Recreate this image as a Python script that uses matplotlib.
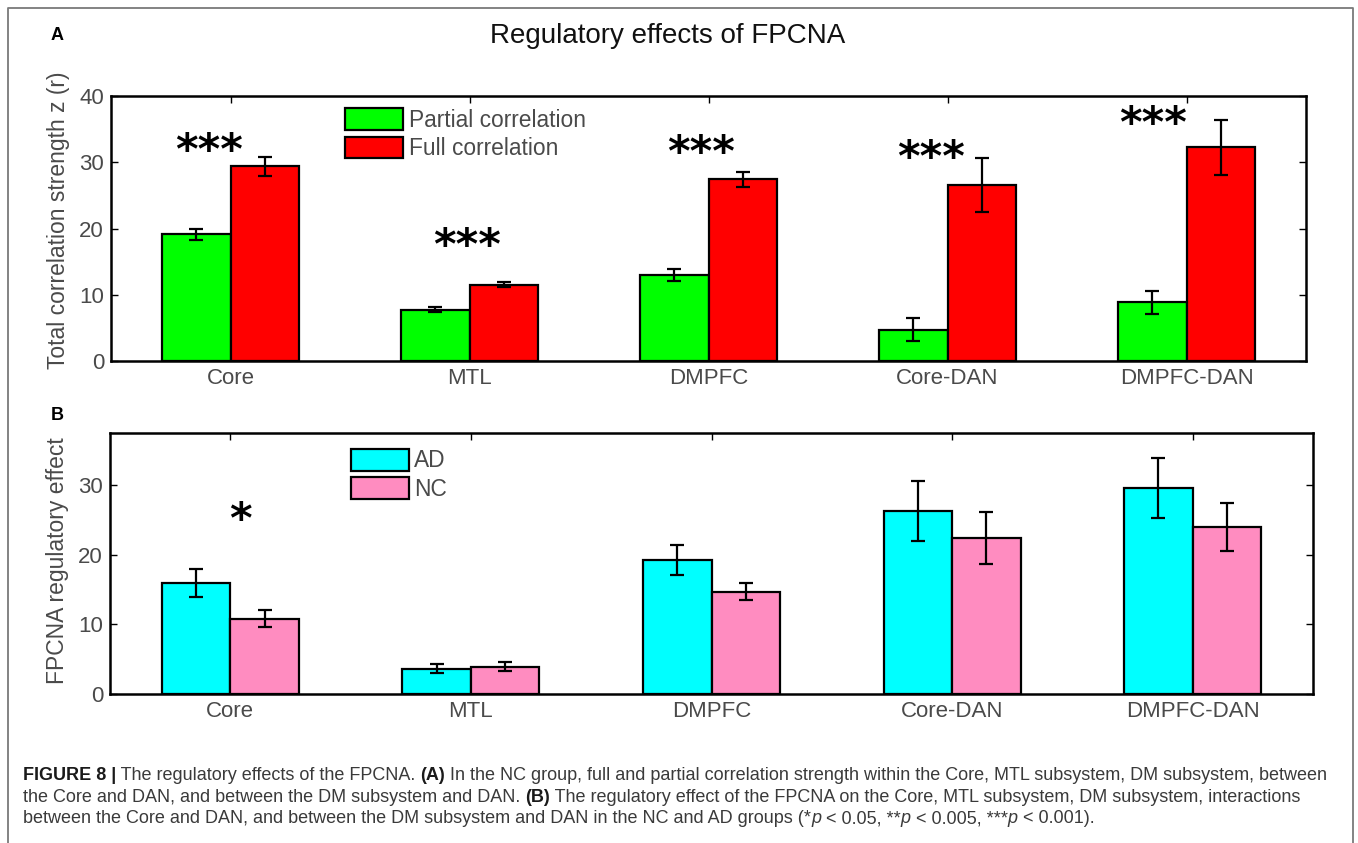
import matplotlib
matplotlib.use('Agg')
import matplotlib.pyplot as plt
import numpy as np
from matplotlib.lines import Line2D

plt.rcParams['font.family'] = ['Liberation Sans', 'DejaVu Sans']

groups = ['Core', 'MTL', 'DMPFC', 'Core-DAN', 'DMPFC-DAN']

# panel A: partial vs full correlation (NC group)
partial_mean = [19.1, 7.75, 13.0, 4.7, 8.85]
partial_err = [0.9, 0.4, 0.85, 1.75, 1.75]
full_mean = [29.4, 11.5, 27.4, 26.6, 32.25]
full_err = [1.4, 0.4, 1.2, 4.1, 4.15]
stars_a = ['***', '***', '***', '***', '***']
stars_a_x = [0.91, 1.99, 2.97, 3.93, 4.86]
stars_a_y = [32.9, 18.5, 32.6, 31.8, 37.0]

# panel B: FPCNA regulatory effect, AD vs NC
ad_mean = [16.0, 3.64, 19.25, 26.3, 29.6]
ad_err = [2.0, 0.6, 2.15, 4.3, 4.35]
nc_mean = [10.8, 3.93, 14.7, 22.4, 24.0]
nc_err = [1.2, 0.6, 1.25, 3.75, 3.5]
stars_b = ['*']
stars_b_x = [1.04]
stars_b_y = [26.1]

W, H = 1358, 843
fig = plt.figure(figsize=(W / 100, H / 100), dpi=100)
fig.patch.set_facecolor('white')

gray = '#4a4a4a'


def panel(ax, m1, e1, m2, e2, c1, c2, l1, l2, ylim, yticks, ylabel, leg_anchor, ylab_y):
    x = np.arange(1, len(groups) + 1)
    w = 0.285
    ax.bar(x - w / 2, m1, w, color=c1, edgecolor='black', linewidth=1.6, label=l1, zorder=2)
    ax.bar(x + w / 2, m2, w, color=c2, edgecolor='black', linewidth=1.6, label=l2, zorder=2)
    ax.errorbar(x - w / 2, m1, yerr=e1, fmt='none', ecolor='black', elinewidth=1.6,
                capsize=5, capthick=1.6, zorder=3)
    ax.errorbar(x + w / 2, m2, yerr=e2, fmt='none', ecolor='black', elinewidth=1.6,
                capsize=5, capthick=1.6, zorder=3)
    ax.set_xlim(0.5, len(groups) + 0.5)
    ax.set_ylim(*ylim)
    ax.set_xticks(x)
    ax.set_xticklabels(groups)
    ax.set_yticks(yticks)
    ax.tick_params(direction='in', length=5, width=1, top=True, right=True,
                   labelsize=16, labelcolor=gray, pad=5)
    for s in ax.spines.values():
        s.set_linewidth(1.8)
    ax.set_ylabel(ylabel, fontsize=16.5, color=gray)
    ax.yaxis.set_label_coords(-0.034, ylab_y)
    leg = ax.legend(loc='upper left', bbox_to_anchor=leg_anchor, frameon=False, fontsize=16.4,
                    handlelength=2.55, handleheight=1.1, handletextpad=0.25,
                    labelspacing=0.22, borderaxespad=0, borderpad=0)
    for t in leg.get_texts():
        t.set_color(gray)


def add_stars(ax, labels, xs, ys):
    for s, sx, sy in zip(labels, xs, ys):
        ax.annotate(s, (sx, sy), xytext=(0, -3), textcoords='offset points',
                    ha='center', va='center_baseline', fontsize=31, fontweight='bold',
                    family='DejaVu Sans')


axA = fig.add_axes([111 / W, 1 - 361 / H, 1195 / W, 265 / H])
panel(axA, partial_mean, partial_err, full_mean, full_err, '#00ff00', '#ff0000',
      'Partial correlation', 'Full correlation', (0, 40), [0, 10, 20, 30, 40],
      'Total correlation strength z (r)', (0.196, 0.955), 0.53)
add_stars(axA, stars_a, stars_a_x, stars_a_y)

axB = fig.add_axes([110 / W, 1 - 694 / H, 1203 / W, 261 / H])
panel(axB, ad_mean, ad_err, nc_mean, nc_err, '#00ffff', '#ff8cc0',
      'AD', 'NC', (0, 37.5), [0, 10, 20, 30],
      'FPCNA regulatory effect', (0.2, 0.94), 0.51)
add_stars(axB, stars_b, stars_b_x, stars_b_y)

fig.text(668 / W, 1 - 36 / H, 'Regulatory effects of FPCNA', ha='center', va='center',
         fontsize=20, color='#111111')
fig.text(57 / W, 1 - 35 / H, 'A', ha='center', va='center', fontsize=13, fontweight='bold')
fig.text(57 / W, 1 - 416 / H, 'B', ha='center', va='center', fontsize=13, fontweight='bold')

# outer frame (open at the bottom, continues past the image)
fig.add_artist(Line2D([8 / W, 8 / W, 1353 / W, 1353 / W], [-0.02, 1 - 8 / H, 1 - 8 / H, -0.02],
                      transform=fig.transFigure, color='#7a7a7a', linewidth=1.3))

# caption with mixed styles
cap_color = '#3a3a3a'
cap_size = 13.0
lines = [
    [('FIGURE 8 |', 'bold', 'normal'), (' The regulatory effects of the FPCNA. ', 'normal', 'normal'),
     ('(A)', 'bold', 'normal'),
     (' In the NC group, full and partial correlation strength within the Core, MTL subsystem, DM subsystem, between',
      'normal', 'normal')],
    [('the Core and DAN, and between the DM subsystem and DAN. ', 'normal', 'normal'), ('(B)', 'bold', 'normal'),
     (' The regulatory effect of the FPCNA on the Core, MTL subsystem, DM subsystem, interactions', 'normal', 'normal')],
    [('between the Core and DAN, and between the DM subsystem and DAN in the NC and AD groups (*', 'normal', 'normal'),
     ('p', 'normal', 'italic'), (' < 0.05, **', 'normal', 'normal'), ('p', 'normal', 'italic'),
     (' < 0.005, ***', 'normal', 'normal'), ('p', 'normal', 'italic'), (' < 0.001).', 'normal', 'normal')],
]
line_y = [780, 802, 823]
renderer = fig.canvas.get_renderer()
for segs, yy in zip(lines, line_y):
    xx = 23
    for txt, wt, st in segs:
        col = '#1a1a1a' if wt == 'bold' else cap_color
        t = fig.text(xx / W, 1 - yy / H, txt, ha='left', va='baseline', fontsize=cap_size,
                     fontweight=wt, fontstyle=st, color=col)
        bb = t.get_window_extent(renderer)
        xx += bb.width

fig.savefig('out.png', dpi=100)
